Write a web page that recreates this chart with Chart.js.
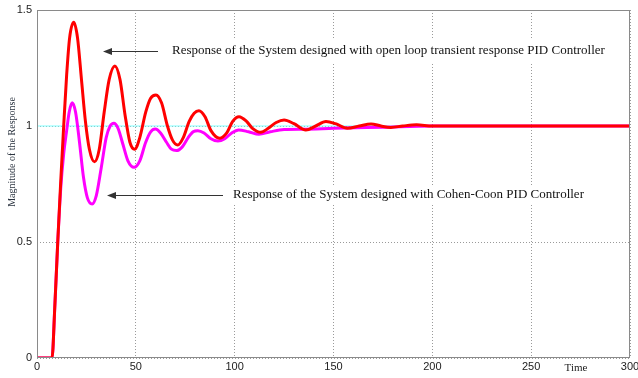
<!DOCTYPE html>
<html>
<head>
<meta charset="utf-8">
<script src="https://cdn.jsdelivr.net/npm/chart.js@4"></script>
<style>
  html, body { margin: 0; padding: 0; background: #fff; }
  #c { display: block; }
</style>
</head>
<body>
<canvas id="c" width="638" height="378"></canvas>
<script>
// time samples and response values
const redTime = [0, 7.6, 9, 10.5, 12, 13.5, 15, 16.5, 18.6, 20.5, 22.5, 24.5, 26.5, 29.1, 31.5, 34, 36.5, 39.4,
  42, 44.5, 47, 49.4, 52, 55, 57.5, 60.2, 63, 66, 68.5, 71.2, 74, 77, 79.5, 81.9, 85, 88, 92.4, 96, 99, 102.2,
  106, 109, 113.2, 117, 121, 125, 130, 136, 141, 146.2, 151, 157, 163, 169, 174, 179, 185, 192, 200, 220, 250, 300];
const redResp = [0, 0, 0.22, 0.5, 0.76, 1.0, 1.22, 1.38, 1.447, 1.38, 1.2, 1.02, 0.9, 0.846, 0.9, 1.06, 1.2, 1.259,
  1.2, 1.05, 0.93, 0.9, 0.95, 1.06, 1.12, 1.134, 1.1, 1.0, 0.94, 0.918, 0.95, 1.02, 1.055, 1.066, 1.04, 0.98, 0.947, 0.97, 1.02, 1.04,
  1.02, 0.99, 0.973, 0.99, 1.015, 1.026, 1.01, 0.983, 1.0, 1.019, 1.01, 0.99, 1.0, 1.009, 1.0, 0.994, 1.0, 1.005, 1.0, 1.0, 1.0, 1.0];

const magTime = [0, 7.6, 9, 10.5, 12, 13.5, 15, 16.3, 17.8, 19.5, 21.5, 23.5, 25.5, 27.9, 30, 32.5, 35, 37, 38.9,
  41, 43.5, 46, 49.1, 52, 55, 57.5, 59.9, 62.5, 65.5, 68, 70.6, 73.5, 76.5, 79, 81.4, 84.5, 88, 91.5, 95, 98.5, 102,
  107, 112.3, 118, 125, 135, 150, 175, 200, 300];
const magResp = [0, 0, 0.22, 0.5, 0.73, 0.88, 0.98, 1.06, 1.1, 1.06, 0.93, 0.78, 0.69, 0.664, 0.7, 0.82, 0.95, 1.0, 1.012,
  0.99, 0.92, 0.85, 0.822, 0.85, 0.93, 0.975, 0.987, 0.97, 0.93, 0.9, 0.894, 0.91, 0.95, 0.975, 0.98, 0.97, 0.945, 0.935, 0.945, 0.97, 0.983,
  0.975, 0.964, 0.975, 0.985, 0.986, 0.99, 0.995, 1.0, 1.0];

const refTime = [0, 300];
const refResp = [1, 1];

const xTicks = [0, 50, 100, 150, 200, 250, 300];
const yTicks = [0, 0.5, 1, 1.5];

const pts = (t, v) => t.map((x, i) => ({ x: x, y: v[i] }));

const serif = '"Liberation Serif", "DejaVu Serif", serif';

// box, labels and arrows, MATLAB style
const decor = {
  id: 'decor',
  beforeDatasetsDraw(chart) {
    const ctx = chart.ctx;
    ctx.save();
    ctx.fillStyle = '#fff';
    ctx.fillRect(166, 40, 450, 22);
    ctx.fillRect(228, 186, 366, 19);
    ctx.restore();
  },
  afterDatasetsDraw(chart) {
    const ctx = chart.ctx;
    const a = chart.chartArea;
    ctx.save();
    ctx.strokeStyle = '#8a8a8a';
    ctx.lineWidth = 1;
    ctx.strokeRect(a.left + 0.5, a.top + 0.5, a.right - a.left - 1, a.bottom - a.top - 1);

    ctx.fillStyle = '#111';
    ctx.font = '13px ' + serif;
    ctx.textBaseline = 'middle';
    ctx.textAlign = 'left';
    ctx.fillText('Response of the System designed with open loop transient response PID Controller', 172, 51);
    ctx.fillText('Response of the System designed with Cohen-Coon PID Controller', 233, 195);

    ctx.strokeStyle = '#333';
    ctx.fillStyle = '#333';
    const arrow = (x1, x2, y) => {
      ctx.beginPath();
      ctx.moveTo(x1, y + 0.5);
      ctx.lineTo(x2 + 6, y + 0.5);
      ctx.stroke();
      ctx.beginPath();
      ctx.moveTo(x2, y + 0.5);
      ctx.lineTo(x2 + 9, y - 3);
      ctx.lineTo(x2 + 9, y + 4);
      ctx.closePath();
      ctx.fill();
    };
    arrow(158, 103, 51);
    arrow(223, 107, 195);

    ctx.fillStyle = '#222';
    ctx.font = '11px ' + serif;
    ctx.textAlign = 'center';
    ctx.fillText('Time', 576, 368);

    ctx.translate(12, 152);
    ctx.rotate(-Math.PI / 2);
    ctx.fillStyle = '#2b3440';
    ctx.font = '10px ' + serif;
    ctx.fillText('Magnitude of the Response', 0, 0);
    ctx.restore();
  }
};

new Chart(document.getElementById('c'), {
  type: 'line',
  data: {
    datasets: [
      {
        data: pts(redTime, redResp),
        borderColor: '#ff0000',
        borderWidth: 3,
        pointRadius: 0,
        cubicInterpolationMode: 'monotone',
        order: 1
      },
      {
        data: pts(magTime, magResp),
        borderColor: '#ff00ff',
        borderWidth: 3,
        pointRadius: 0,
        cubicInterpolationMode: 'monotone',
        order: 2
      },
      {
        data: pts(refTime, refResp),
        borderColor: '#80ffff',
        borderWidth: 1.2,
        pointRadius: 0,
        order: 3
      }
    ]
  },
  options: {
    responsive: false,
    animation: false,
    events: [],
    layout: { padding: { left: 0, right: 8, top: 10, bottom: 0 } },
    plugins: { legend: { display: false }, tooltip: { enabled: false } },
    scales: {
      x: {
        type: 'linear',
        min: 0,
        max: 300,
        afterBuildTicks: s => { s.ticks = xTicks.map(v => ({ value: v })); },
        afterFit: s => { s.height = 20; s.paddingLeft = 0; s.paddingRight = 0; },
        ticks: {
          color: '#222',
          padding: 2,
          maxRotation: 0,
          autoSkip: false,
          callback: v => String(v),
          font: { family: '"Liberation Sans", Arial, sans-serif', size: 11 }
        },
        grid: {
          drawTicks: false,
          color: '#9a9a9a',
          lineWidth: 1
        },
        border: { display: false, dash: [1, 2] }
      },
      y: {
        min: 0,
        max: 1.5,
        afterBuildTicks: s => { s.ticks = yTicks.map(v => ({ value: v })); },
        afterFit: s => { s.width = 37; s.paddingTop = 0; s.paddingBottom = 0; },
        ticks: {
          color: '#222',
          padding: 5,
          callback: v => String(v),
          font: { family: '"Liberation Sans", Arial, sans-serif', size: 11 }
        },
        grid: {
          drawTicks: false,
          color: '#9a9a9a',
          lineWidth: 1
        },
        border: { display: false, dash: [1, 2] }
      }
    }
  },
  plugins: [decor]
});
</script>
</body>
</html>
